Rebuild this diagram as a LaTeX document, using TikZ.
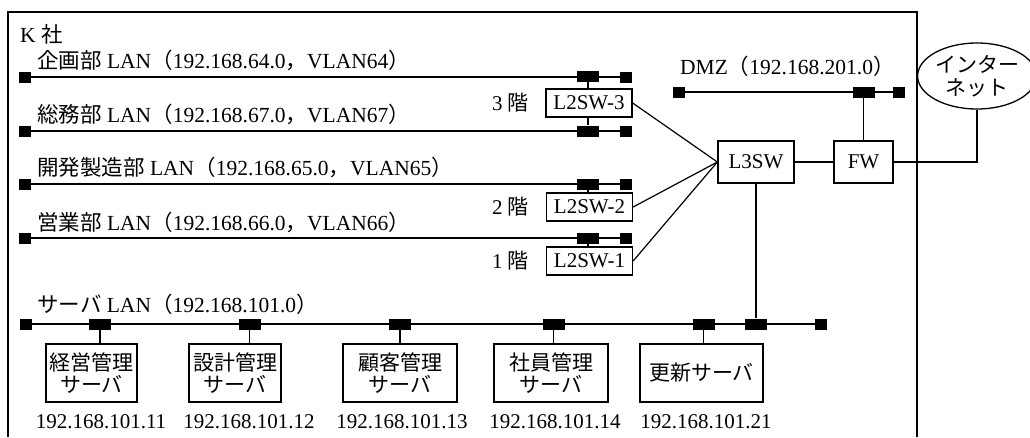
\documentclass[tikz,border=0pt]{standalone}
\usepackage{fontspec}
\setmainfont{Liberation Serif}
\newfontfamily\cjk{Noto Sans CJK JP}
\newcommand{\jp}[1]{{\cjk #1}}
\usetikzlibrary{shapes.geometric}
\begin{document}
\begin{tikzpicture}[x=1pt,y=-1pt,
  every node/.style={font=\fontsize{21}{23}\selectfont,inner sep=0pt},
  lbl/.style={anchor=west,font=\fontsize{21.5}{23}\selectfont},
  bus/.style={line width=1.9pt},
  conn/.style={line width=1.2pt},
  endsq/.style={fill=black,draw=none,minimum width=12pt,minimum height=11pt},
  blk/.style={fill=black,draw=none,minimum width=22pt,minimum height=11pt},
  sw/.style={draw,line width=1.3pt,minimum width=86pt,minimum height=28pt},
  dev/.style={draw,line width=1.3pt,minimum height=42pt},
  srv/.style={draw,line width=1.3pt,minimum height=58pt,align=center,font=\cjk\fontsize{21}{22}\selectfont},
]
\useasboundingbox (0,0) rectangle (1030,437);
% frame
\draw[line width=1.5pt] (8,437) -- (8,12) -- (917,12) -- (917,437);
\node[lbl] (k) at (20,34) {K \jp{社}};

% LAN labels
\node[lbl] (t64) at (37,60) {\jp{企画部} LAN\jp{（}192.168.64.0\jp{，}VLAN64\jp{）}};
\node[lbl] (t67) at (37,114) {\jp{総務部} LAN\jp{（}192.168.67.0\jp{，}VLAN67\jp{）}};
\node[lbl] (t65) at (37,167) {\jp{開発製造部} LAN\jp{（}192.168.65.0\jp{，}VLAN65\jp{）}};
\node[lbl] (t66) at (37,222) {\jp{営業部} LAN\jp{（}192.168.66.0\jp{，}VLAN66\jp{）}};
\node[lbl] (tsv) at (37,304) {\jp{サーバ} LAN\jp{（}192.168.101.0\jp{）}};
\node[lbl] (tdmz) at (680,66) {DMZ\jp{（}192.168.201.0\jp{）}};

% LAN squares and blocks
\node[endsq] (l64) at (24.5,77) {};
\node[blk] (b64) at (588,76) {};
\node[endsq] (r64) at (626,77) {};
\node[endsq] (l67) at (24.5,131) {};
\node[blk] (b67) at (588,131) {};
\node[endsq] (r67) at (626,131) {};
\node[endsq] (l65) at (24.5,184) {};
\node[blk] (b65) at (588,184) {};
\node[endsq] (r65) at (626,184) {};
\node[endsq] (l66) at (24.5,238) {};
\node[blk] (b66) at (588,238) {};
\node[endsq] (r66) at (626,238) {};
\draw[bus] (l64) -- (r64);
\draw[bus] (l67) -- (r67);
\draw[bus] (l65) -- (r65);
\draw[bus] (l66) -- (r66);

% DMZ
\node[endsq] (ldmz) at (678.5,92) {};
\node[blk] (bdmz) at (863.5,92) {};
\node[endsq] (rdmz) at (899,92) {};
\draw[bus] (ldmz) -- (rdmz);

% server LAN
\node[endsq] (lsv) at (26,324) {};
\node[blk] (s1) at (100,324) {};
\node[blk] (s2) at (249.5,324) {};
\node[blk] (s3) at (400,324) {};
\node[blk] (s4) at (553.5,324) {};
\node[blk] (s5) at (703.5,324) {};
\node[blk] (s6) at (756,324) {};
\node[endsq] (rsv) at (821,324) {};
\draw[bus] (lsv) -- (rsv);

% L2 switches
\node[sw] (sw3) at (589,103) {L2SW-3};
\node[sw] (sw2) at (589.5,207) {L2SW-2};
\node[sw] (sw1) at (589.5,261) {L2SW-1};
\node[anchor=east] (f3) at (529,103) {3 \jp{階}};
\node[anchor=east] (f2) at (529,207) {2 \jp{階}};
\node[anchor=east] (f1) at (529,261) {1 \jp{階}};
\draw[conn] (b64) -- (b64 |- sw3.north);
\draw[conn] (b67) -- (b67 |- sw3.south);
\draw[conn] (b65) -- (b65 |- sw2.north);
\draw[conn] (b66) -- (b66 |- sw1.north);

% core
\node[dev,minimum width=76pt] (l3) at (756,162) {L3SW};
\node[dev,minimum width=59pt] (fw) at (863.5,162) {FW};
\node[draw,ellipse,line width=1.3pt,minimum width=102pt,minimum height=66pt,align=center,font=\cjk\fontsize{21}{23}\selectfont] (inet) at (977,76) {インター\\ネット};
\draw[conn] (sw3.east) -- (l3.west);
\draw[conn] (sw2.east) -- (l3.west);
\draw[conn] (sw1.east) -- (l3.west);
\draw[conn] (l3) -- (fw);
\draw[conn] (bdmz) -- (fw);
\draw[conn] (fw.east) -| (inet.south);
\draw[conn] (l3) -- (s6);

% servers
\node[srv,minimum width=91pt] (v1) at (91.5,373) {経営管理\\サーバ};
\node[srv,minimum width=92pt] (v2) at (235,373) {設計管理\\サーバ};
\node[srv,minimum width=114pt] (v3) at (400,373) {顧客管理\\サーバ};
\node[srv,minimum width=114pt] (v4) at (551,373) {社員管理\\サーバ};
\node[srv,minimum width=123pt] (v5) at (701.5,373) {更新サーバ};
\draw[conn] (s1) -- (s1 |- v1.north);
\draw[conn] (s2) -- (s2 |- v2.north);
\draw[conn] (s3) -- (s3 |- v3.north);
\draw[conn] (s4) -- (s4 |- v4.north);
\draw[conn] (s5) -- (s5 |- v5.north);
\node (ip1) at (101,422) {192.168.101.11};
\node (ip2) at (249,422) {192.168.101.12};
\node (ip3) at (402,422) {192.168.101.13};
\node (ip4) at (555,422) {192.168.101.14};
\node (ip5) at (706,422) {192.168.101.21};
\end{tikzpicture}
\end{document}
